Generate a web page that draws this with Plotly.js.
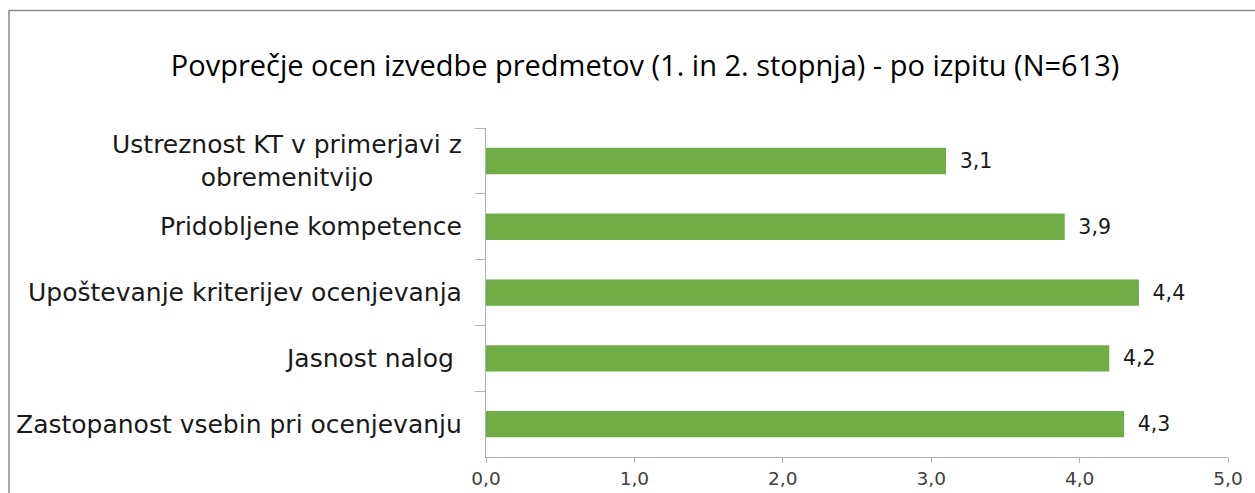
<!DOCTYPE html>
<html>
<head>
<meta charset="utf-8">
<script src="https://cdn.plot.ly/plotly-3.0.1.min.js"></script>
<style>
html,body{margin:0;padding:0;background:#fff;}
#chart{width:1255px;height:493px;}
</style>
</head>
<body>
<div id="chart"></div>
<script>
const categories = [
  "Ustreznost KT v primerjavi z<br>obremenitvijo",
  "Pridobljene kompetence",
  "Upoštevanje kriterijev ocenjevanja",
  "Jasnost nalog\u00a0",
  "Zastopanost vsebin pri ocenjevanju"
];
const values = [3.1, 3.9, 4.4, 4.2, 4.3];
const xTicks = [0, 1, 2, 3, 4, 5];

const labelFont = {family: "DejaVu Sans", size: 25, color: "#1a1a1a"};

const trace = {
  type: "bar",
  orientation: "h",
  x: values,
  y: categories,
  marker: {color: "#70AD47"},
  text: values.map(v => "\u00a0\u2009" + v.toFixed(1).replace(".", ",")),
  textposition: "outside",
  cliponaxis: false,
  textfont: {family: "DejaVu Sans", size: 20.5, color: "#1a1a1a"},
  hoverinfo: "none"
};

const annotations = categories.map(c => ({
  xref: "paper", yref: "y",
  x: 0, y: c,
  xanchor: "right", yanchor: "middle",
  xshift: -22,
  text: c,
  align: "center",
  showarrow: false,
  font: labelFont
}));

const layout = {
  width: 1255, height: 493,
  margin: {l: 486, r: 27, t: 128, b: 36, pad: 0},
  paper_bgcolor: "#fff",
  plot_bgcolor: "#fff",
  separators: ",.",
  bargap: 0.6,
  showlegend: false,
  title: {
    text: "Povprečje ocen izvedbe predmetov (1. in 2. stopnja) - po izpitu (N=613)",
    font: {family: "Open Sans", size: 29, color: "#000"},
    x: 0.514, xanchor: "center",
    y: 0.866, yanchor: "middle"
  },
  xaxis: {
    range: [0, 5],
    tickvals: xTicks,
    tickformat: ".1f",
    showgrid: false,
    zeroline: false,
    showline: true,
    linecolor: "#B0B0B0",
    linewidth: 1,
    ticks: "outside",
    ticklen: 5,
    tickcolor: "#B0B0B0",
    tickfont: {family: "DejaVu Sans", size: 18.5, color: "#404040"},
    fixedrange: true
  },
  yaxis: {
    type: "category",
    autorange: "reversed",
    showticklabels: false,
    showgrid: false,
    zeroline: false,
    showline: true,
    linecolor: "#B0B0B0",
    linewidth: 1,
    ticks: "outside",
    tickson: "boundaries",
    ticklen: 10,
    tickcolor: "#B0B0B0",
    fixedrange: true
  },
  annotations: annotations,
  shapes: [{
    type: "rect", xref: "paper", yref: "paper",
    x0: (9 - 486) / 742, x1: (1275 - 486) / 742,
    y0: (457 - 520) / 329, y1: (457 - 10.5) / 329,
    line: {color: "#8C8C8C", width: 1.5},
    fillcolor: "rgba(0,0,0,0)",
    layer: "below"
  }]
};

Plotly.newPlot("chart", [trace], layout, {displayModeBar: false, staticPlot: true});
</script>
</body>
</html>
